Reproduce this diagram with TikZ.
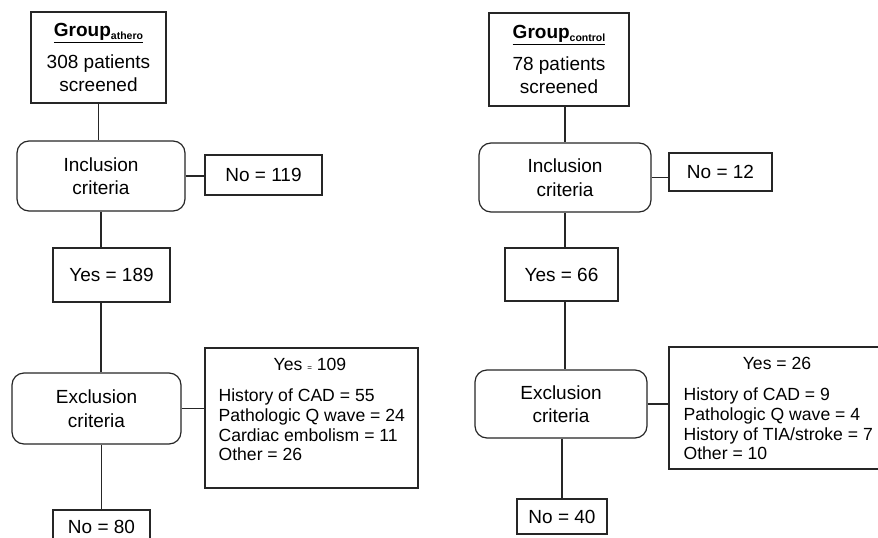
\documentclass[tikz,border=0pt]{standalone}
\usepackage{fontspec}
\setmainfont{Liberation Sans}
\usetikzlibrary{calc}

\begin{document}
\begin{tikzpicture}[x=1pt, y=-1pt, line width=1.2pt,
  box/.style={draw=black!85, fill=white, align=center, inner sep=2pt, font=\fontsize{19}{23.5}\selectfont},
  crit/.style={box, rounded corners=12pt},
  listtxt/.style={align=left, inner sep=0pt, font=\fontsize{17.6}{19.6}\selectfont},
  link/.style={draw=black!85}]
\useasboundingbox (0,0) rectangle (878,538);
% athero
\node[box, minimum width=135, minimum height=91] (grpA) at (98.5,57.5)
  {\underline{\textbf{Group}\raisebox{-3pt}{\fontsize{10.5}{10}\selectfont\bfseries athero}}\\[8pt]308 patients\\screened};
\node[crit, minimum width=168, minimum height=70] (incA) at (101,176) {Inclusion\\criteria};
\node[box, minimum width=117, minimum height=40] (noA) at (263.5,175) {No = 119};
\node[box, minimum width=117, minimum height=54] (yesA) at (111.5,275) {Yes = 189};
\node[crit, minimum width=169, minimum height=71] (excA) at (96.5,408.5) {Exclusion\\criteria};
\node[box, minimum width=213, minimum height=140] (exA) at (311.5,418) {};
\node[listtxt] (exAhd) at (310,364) {Yes {\fontsize{8}{8}\selectfont =} 109};
\node[listtxt, anchor=north west] (exAls) at (218,388.5)
  {History of CAD = 55\\Pathologic Q wave = 24\\Cardiac embolism = 11\\Other = 26};
\node[box, minimum width=97, minimum height=34] (endA) at (101.5,527) {No = 80};
\draw[link] (grpA.south) -- (grpA.south |- incA.north);
\draw[link] (incA.east) -- (incA.east -| noA.west);
\draw[link] (incA.south) -- (incA.south |- yesA.north);
\draw[link] (yesA.south -| incA.south) -- (excA.north -| incA.south);
\draw[link] (excA.east) -- (excA.east -| exA.west);
\draw[link] (excA.south -| endA.north) -- (endA.north);
% control
\node[box, minimum width=140, minimum height=93] (grpB) at (559,59.5)
  {\underline{\textbf{Group}\raisebox{-3pt}{\fontsize{10.5}{10}\selectfont\bfseries control}}\\[8pt]78 patients\\screened};
\node[crit, minimum width=172, minimum height=69] (incB) at (565,177.5) {Inclusion\\criteria};
\node[box, minimum width=103, minimum height=38] (noB) at (720.5,172) {No = 12};
\node[box, minimum width=113, minimum height=53] (yesB) at (561.5,274.5) {Yes = 66};
\node[crit, minimum width=172, minimum height=68] (excB) at (561,404) {Exclusion\\criteria};
\node[box, minimum width=213, minimum height=122] (exB) at (775.5,408) {};
\node[listtxt] (exBhd) at (777,363) {Yes = 26};
\node[listtxt, anchor=north west] (exBls) at (683,387.5)
  {History of CAD = 9\\Pathologic Q wave = 4\\History of TIA/stroke = 7\\Other = 10};
\node[box, minimum width=90, minimum height=35] (endB) at (562,516.5) {No = 40};
\draw[link] (grpB.south -| incB.north) -- (incB.north);
\draw[link] (incB.east) -- (incB.east -| noB.west);
\draw[link] (incB.south) -- (incB.south |- yesB.north);
\draw[link] (yesB.south -| incB.south) -- (excB.north -| incB.south);
\draw[link] (excB.east) -- (excB.east -| exB.west);
\draw[link] (excB.south -| endB.north) -- (endB.north);
\end{tikzpicture}
\end{document}
